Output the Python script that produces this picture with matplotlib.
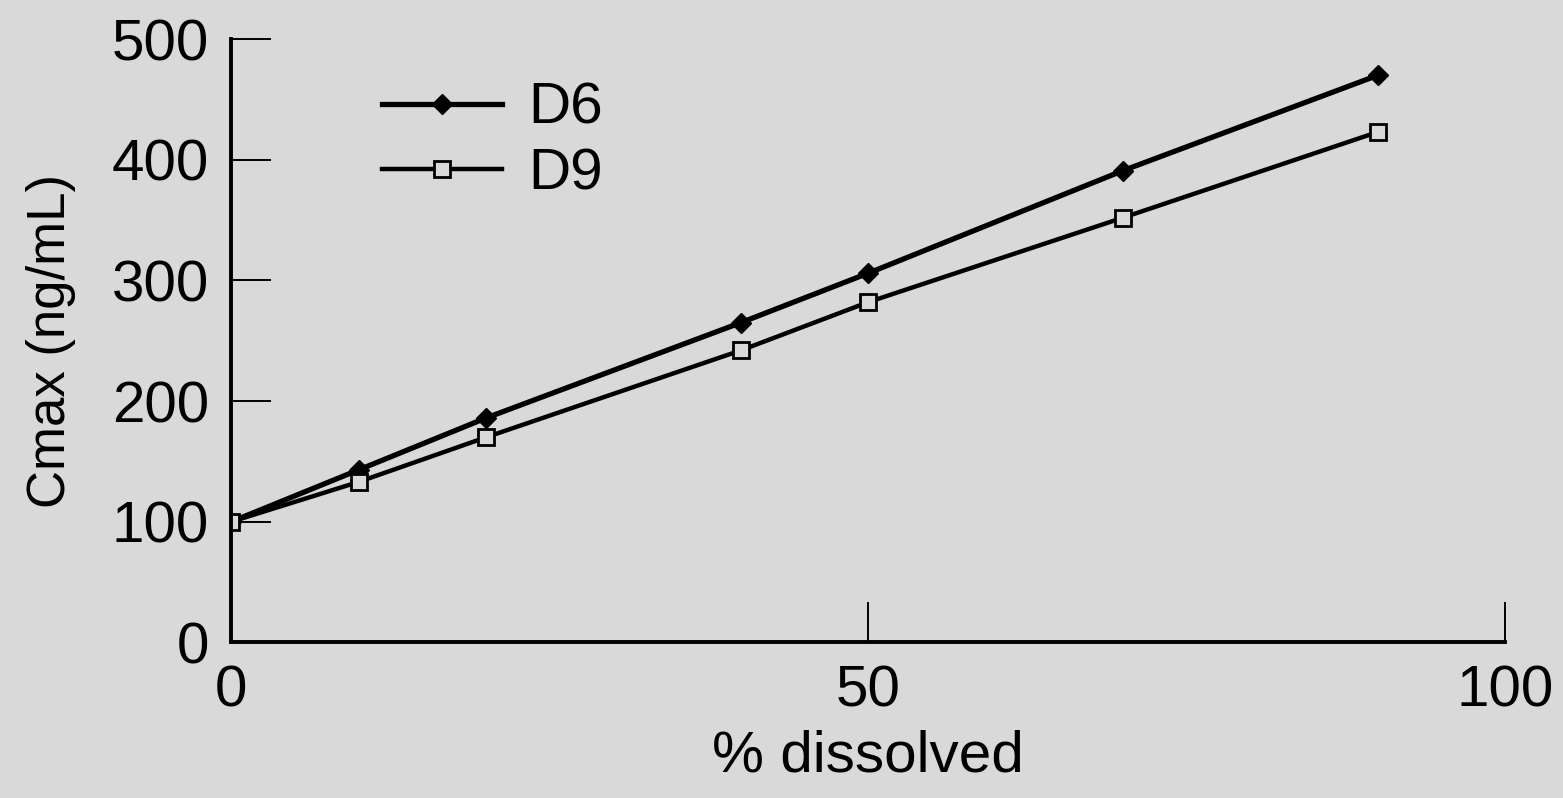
import numpy as np
import matplotlib.pyplot as plt

plt.rcParams['font.family'] = ['Liberation Sans', 'DejaVu Sans']

dissolved = [0, 10, 20, 40, 50, 70, 90]
d6 = [100, 143, 186, 265, 306, 391, 470]
d9 = [100, 133, 170, 242, 282, 352, 423]

bg = '#d9d9d9'
fig = plt.figure(figsize=(15.63, 7.98), dpi=100, facecolor=bg)
ax = fig.add_axes([0.148, 0.195, 0.815, 0.756])
ax.set_facecolor(bg)

ax.plot(dissolved, d6, '-', color='black', lw=3.8, marker='D', ms=10,
        mfc='black', mec='black', label='D6')
ax.plot(dissolved, d9, '-', color='black', lw=3.2, marker='s', ms=12,
        mfc=bg, mec='black', mew=2, label='D9')

ax.set_xlim(0, 100)
ax.set_ylim(0, 500)
ax.set_xticks([0, 50, 100])
ax.set_yticks([0, 100, 200, 300, 400, 500])

for s in ('top', 'right'):
    ax.spines[s].set_visible(False)
for s in ('left', 'bottom'):
    ax.spines[s].set_linewidth(2.8)

ax.tick_params(axis='y', direction='in', length=29, width=1.4, pad=16, labelsize=42)
ax.tick_params(axis='x', direction='in', length=29, width=1.4, pad=16, labelsize=42)

ax.set_xlabel('% dissolved', fontsize=42, labelpad=8)
ax.set_ylabel('Cmax (ng/mL)', fontsize=38, labelpad=26)

ax.legend(loc='upper left', bbox_to_anchor=(382/1563, 1-82/798),
          bbox_transform=fig.transFigure, frameon=False, fontsize=42,
          handlelength=2.05, handletextpad=0.45, labelspacing=0.2,
          borderpad=0, borderaxespad=0)

plt.savefig('out.png', dpi=100, facecolor=bg)
